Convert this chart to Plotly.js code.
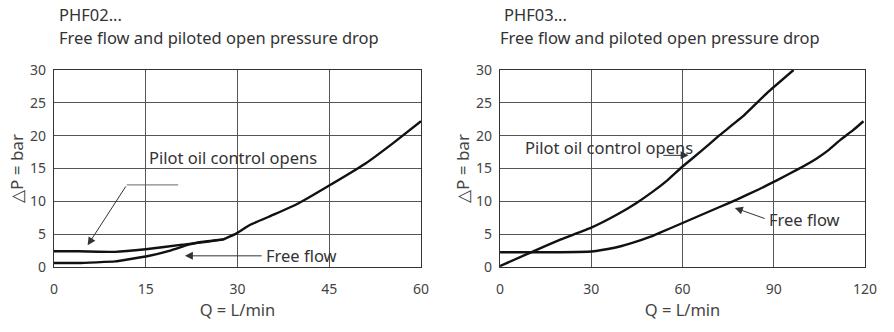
<!DOCTYPE html>
<html><head><meta charset="utf-8">
<script src="https://cdn.plot.ly/plotly-3.0.1.min.js"></script>
<style>html,body{margin:0;padding:0;background:#fff}#c{width:894px;height:332px}</style>
</head><body><div id="c"></div>
<script>
// PHF02 (left)
const leftPilotQ  = [0, 4, 10, 15, 21, 27.7, 30, 32, 36, 40, 45, 51, 55.5, 60];
const leftPilotDP = [2.4, 2.4, 2.3, 2.7, 3.4, 4.2, 5.2, 6.4, 8.0, 9.7, 12.4, 15.8, 18.9, 22.2];
const leftFreeQ   = [0, 4, 10, 15, 19, 22, 24, 27.7];
const leftFreeDP  = [0.6, 0.6, 0.85, 1.6, 2.5, 3.4, 3.8, 4.2];
// PHF03 (right)
const rightPilotQ  = [0, 10, 20, 30, 38.5, 45, 50, 55, 60, 66, 72, 80, 88, 96.5];
const rightPilotDP = [0.15, 2.2, 4.2, 6.0, 8.0, 9.8, 11.4, 13.2, 15.3, 17.6, 20.0, 23.0, 26.6, 30.0];
const rightFreeQ   = [0, 10, 20, 30, 35, 40, 45, 50, 56, 64, 72, 78, 85, 91, 98, 104, 108, 112, 116, 119.5];
const rightFreeDP  = [2.25, 2.25, 2.25, 2.35, 2.7, 3.2, 3.9, 4.7, 5.9, 7.5, 9.1, 10.3, 11.8, 13.2, 14.9, 16.5, 17.8, 19.4, 20.8, 22.2];
const yTicks = [0, 5, 10, 15, 20, 25, 30];
const leftXTicks = [0, 15, 30, 45, 60];
const rightXTicks = [0, 30, 60, 90, 120];
const titles = ["PHF02...", "PHF03..."];
const subtitle = "Free flow and piloted open pressure drop";

const F = "Noto Sans, Open Sans, sans-serif";
const line = {color: '#111', width: 2.4, shape: 'spline', smoothing: 0.25};
const traces = [
  {x: leftPilotQ, y: leftPilotDP, xaxis: 'x', yaxis: 'y', mode: 'lines', line},
  {x: leftFreeQ, y: leftFreeDP, xaxis: 'x', yaxis: 'y', mode: 'lines', line},
  {x: rightPilotQ, y: rightPilotDP, xaxis: 'x2', yaxis: 'y2', mode: 'lines', line},
  {x: rightFreeQ, y: rightFreeDP, xaxis: 'x2', yaxis: 'y2', mode: 'lines', line},
];
function xa(dom, range, ticks) {
  return {domain: dom, range: range, tickvals: ticks, ticktext: ticks.map(String),
    showgrid: true, gridcolor: '#555', gridwidth: 1, zeroline: false,
    showline: true, linecolor: '#333', linewidth: 1.2, mirror: true,
    ticks: '', ticklabelstandoff: 9, tickfont: {family: F, size: 14, color: '#444'},
    title: {text: 'Q = L/min', font: {family: F, size: 16.5, color: '#444'}, standoff: 4}, fixedrange: true};
}
function ya(anchor) {
  return {anchor: anchor, range: [0, 30], tickvals: yTicks, ticktext: yTicks.map(String),
    showgrid: true, gridcolor: '#555', gridwidth: 1, zeroline: false,
    showline: true, linecolor: '#333', linewidth: 1.2, mirror: true,
    ticks: '', ticklabelstandoff: 4, tickfont: {family: F, size: 14, color: '#444'},
    title: {text: '△P = bar', font: {family: F, size: 17, color: '#444'}, standoff: 2}, fixedrange: true};
}
const tf = {family: F, size: 16.5, color: '#333'};
const layout = {
  width: 894, height: 332, margin: {l: 54, r: 29, t: 70, b: 65},
  paper_bgcolor: '#fff', plot_bgcolor: '#fff', showlegend: false,
  xaxis: xa([0, 0.4525], [0, 60], leftXTicks),
  yaxis: ya('x'),
  xaxis2: Object.assign(xa([0.55, 1], [0, 120], rightXTicks), {anchor: 'y2'}),
  yaxis2: ya('x2'),
  shapes: [
    {type: 'line', xref: 'x', yref: 'y', x0: 20.3, y0: 12.5, x1: 11.9, y1: 12.5, line: {color: '#666', width: 1}},
  ],
  annotations: [
    {xref: 'paper', yref: 'paper', x: 3/811, y: 1 + (70-14)/197, xanchor: 'left', yanchor: 'middle', text: titles[0], showarrow: false, font: tf},
    {xref: 'paper', yref: 'paper', x: 3/811, y: 1 + (70-38)/197, xanchor: 'left', yanchor: 'middle', text: subtitle, showarrow: false, font: tf},
    {xref: 'paper', yref: 'paper', x: 448/811, y: 1 + (70-14)/197, xanchor: 'left', yanchor: 'middle', text: titles[1], showarrow: false, font: tf},
    {xref: 'paper', yref: 'paper', x: 444/811, y: 1 + (70-38)/197, xanchor: 'left', yanchor: 'middle', text: subtitle, showarrow: false, font: tf},
    // left annotations
    {xref: 'x', yref: 'y', x: 15.2, y: 16.6, xanchor: 'left', text: 'Pilot oil control opens', showarrow: false, font: tf},
    {xref: 'x', yref: 'y', x: 5.5, y: 3.3, axref: 'x', ayref: 'y', ax: 11.9, ay: 12.5, text: '', showarrow: true, arrowhead: 2, arrowsize: 1.6, arrowwidth: 1, arrowcolor: '#333'},
    {xref: 'x', yref: 'y', x: 21.4, y: 1.7, axref: 'x', ayref: 'y', ax: 34.2, ay: 1.7, text: '', showarrow: true, arrowhead: 2, arrowsize: 1.6, arrowwidth: 1, arrowcolor: '#333'},
    {xref: 'x', yref: 'y', x: 34.4, y: 1.7, xanchor: 'left', text: 'Free flow', showarrow: false, font: tf},
    // right annotations
    {xref: 'x2', yref: 'y2', x: 7.5, y: 18.2, xanchor: 'left', text: 'Pilot oil control opens', showarrow: false, font: tf},
    {xref: 'x2', yref: 'y2', x: 62.0, y: 17.0, axref: 'x2', ayref: 'y2', ax: 53.2, ay: 17.0, text: '', showarrow: true, arrowhead: 2, arrowsize: 1.6, arrowwidth: 1, arrowcolor: '#333'},
    {xref: 'x2', yref: 'y2', x: 77.2, y: 9.0, axref: 'x2', ayref: 'y2', ax: 87.5, ay: 7.3, text: '', showarrow: true, arrowhead: 2, arrowsize: 1.6, arrowwidth: 1, arrowcolor: '#333'},
    {xref: 'x2', yref: 'y2', x: 87.8, y: 7.3, xanchor: 'left', text: 'Free flow', showarrow: false, font: tf},
  ]
};
Plotly.newPlot('c', traces, layout, {staticPlot: true, displayModeBar: false});
</script></body></html>
